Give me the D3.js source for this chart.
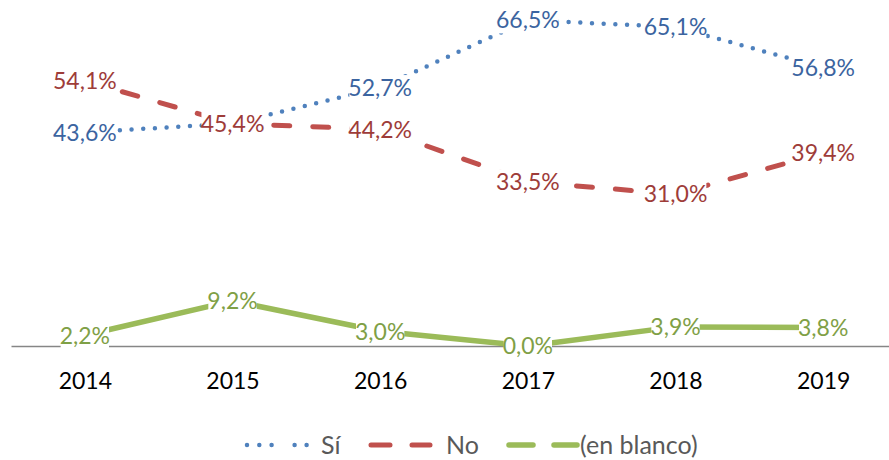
<!DOCTYPE html>
<html>
<head>
<meta charset="utf-8">
<script src="https://cdn.jsdelivr.net/npm/d3@7"></script>
<style>
  body { margin: 0; background: #fff; }
  svg { font-family: Lato, "Open Sans", sans-serif; }
</style>
</head>
<body>
<div class="chart"></div>
<script>
const years = ['2014', '2015', '2016', '2017', '2018', '2019']
const si = [43.6, 45.4, 52.7, 66.5, 65.1, 56.8]
const no = [54.1, 45.4, 44.2, 33.5, 31.0, 39.4]
const blanco = [2.2, 9.2, 3.0, 0.0, 3.9, 3.8]
const seriesNames = ['Sí', 'No', '(en blanco)']

const width = 889, height = 460

const svg = d3.select('.chart').append('svg')
    .attr('width', width)
    .attr('height', height)

const x = d3.scalePoint()
    .domain(years)
    .range([11, 897])
    .padding(0.5)

const y = d3.scaleLinear()
    .domain([0, 70])
    .range([346, 3])

const series = [
    {name: seriesNames[0], values: si, color: '#4F81BD', label: '#3B64A0', width: 4.5, dash: '0 11.7', cap: 'round'},
    {name: seriesNames[1], values: no, color: '#C0504D', label: '#9E3C39', width: 5, dash: '16 23', cap: 'round'},
    {name: seriesNames[2], values: blanco, color: '#9BBB59', label: '#7FA046', width: 5.5, dash: null, cap: 'butt'}
]

// axis
const axis = svg.append('g')
    .attr('transform', `translate(0,${y(0)})`)
    .call(d3.axisBottom(x).tickSize(0).tickSizeOuter(0).tickPadding(27))

axis.select('.domain').attr('stroke', '#868686').attr('stroke-width', 1.5)
axis.selectAll('text')
    .attr('font-size', 23)
    .attr('font-family', 'Lato, sans-serif')
    .attr('fill', '#000')

const line = d3.line()
    .x((d, i) => x(years[i]))
    .y(d => y(d))

series.forEach(s => {
    svg.append('path')
        .datum(s.values)
        .attr('d', line)
        .attr('fill', 'none')
        .attr('stroke', s.color)
        .attr('stroke-width', s.width)
        .attr('stroke-linecap', s.cap)
        .attr('stroke-linejoin', 'round')
        .attr('stroke-dasharray', s.dash)
})

// data labels with white boxes
series.forEach(s => {
    const g = svg.append('g')
    s.values.forEach((v, i) => {
        const lg = g.append('g')
        const t = lg.append('text')
            .attr('x', x(years[i]))
            .attr('y', y(v))
            .attr('dy', '0.36em')
            .attr('text-anchor', 'middle')
            .attr('font-size', 23)
            .attr('fill', s.label)
            .text(v.toFixed(1).replace('.', ',') + '%')
        const b = t.node().getBBox()
        lg.insert('rect', 'text')
            .attr('x', b.x + 1)
            .attr('y', b.y + 2)
            .attr('width', b.width - 2)
            .attr('height', b.height - 2)
            .attr('fill', '#fff')
    })
})

// legend
const legend = svg.append('g').attr('transform', 'translate(0,445)')
const legendItems = [
    {x0: 247, x1: 308, tx: 321, dash: '0 12.3 0 12.3 0 23 0 12'},
    {x0: 371, x1: 430, tx: 446, dash: '19 22'},
    {x0: 509, x1: 577, tx: 580, dash: '24 21'}
]
legendItems.forEach((it, i) => {
    const s = series[i]
    legend.append('line')
        .attr('x1', it.x0).attr('x2', it.x1)
        .attr('y1', 0).attr('y2', 0)
        .attr('stroke', s.color)
        .attr('stroke-width', s.width)
        .attr('stroke-linecap', 'round')
        .attr('stroke-dasharray', it.dash)
    legend.append('text')
        .attr('x', it.tx)
        .attr('y', 0)
        .attr('dy', '0.36em')
        .attr('font-size', 25)
        .attr('fill', '#595959')
        .text(s.name)
})
</script>
</body>
</html>
